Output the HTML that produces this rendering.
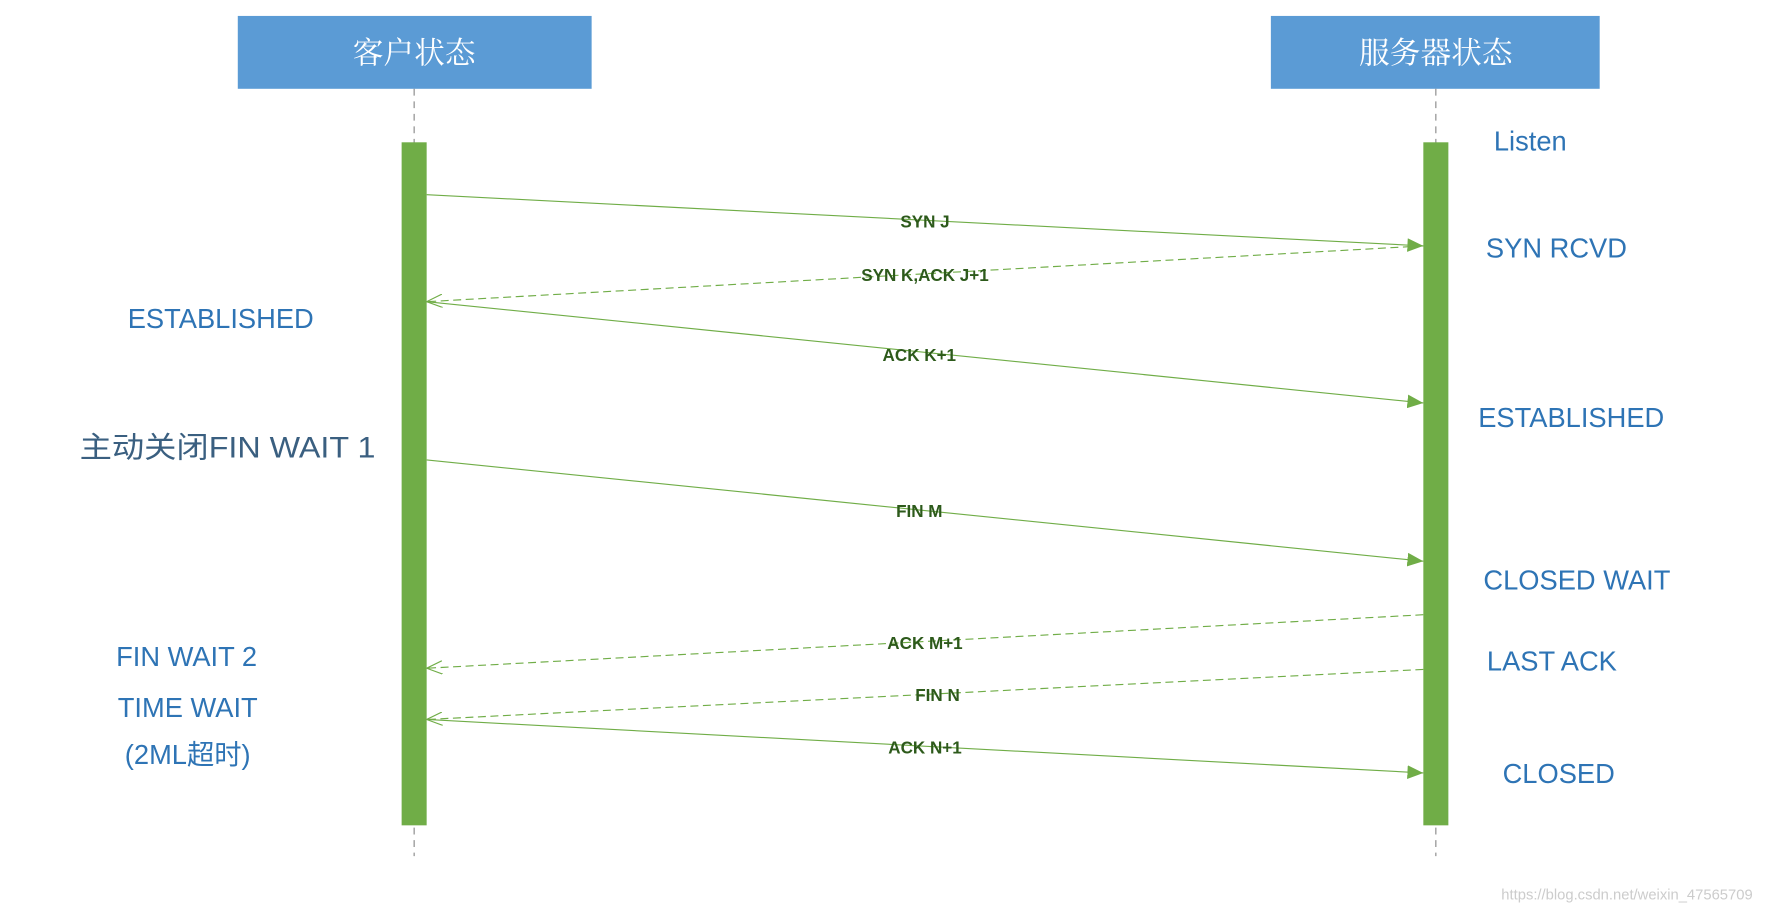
<!DOCTYPE html>
<html><head><meta charset="utf-8"><style>
html,body{margin:0;padding:0;background:#fff;}
svg{display:block;}
</style></head><body>
<svg width="1784" height="913" viewBox="0 0 1568 802" preserveAspectRatio="none" xmlns="http://www.w3.org/2000/svg">
<defs>
<marker id="fill" markerWidth="14" markerHeight="12" refX="14" refY="6" orient="auto" markerUnits="userSpaceOnUse">
<path d="M0,0 L14,6 L0,12 z" fill="#70ad47"/></marker>
<marker id="open" markerWidth="14" markerHeight="12" refX="14" refY="6" orient="auto" markerUnits="userSpaceOnUse">
<path d="M0,0 L14,6 L0,12" fill="none" stroke="#70ad47" stroke-width="1"/></marker>
</defs>
<rect x="209" y="14" width="311" height="64" fill="#5b9bd5"/>
<rect x="1117" y="14" width="289" height="64" fill="#5b9bd5"/>
<text x="364" y="56" font-size="27" fill="#fff" text-anchor="middle" font-family="Noto Serif CJK SC, serif">客户状态</text>
<text x="1262" y="56" font-size="27" fill="#fff" text-anchor="middle" font-family="Noto Serif CJK SC, serif">服务器状态</text>
<line x1="364" y1="78" x2="364" y2="752" stroke="#888" stroke-dasharray="6,5" stroke-width="1"/>
<line x1="1262" y1="78" x2="1262" y2="752" stroke="#888" stroke-dasharray="6,5" stroke-width="1"/>
<rect x="353" y="125" width="22" height="600" fill="#70ad47"/>
<rect x="1251" y="125" width="22" height="600" fill="#70ad47"/>
<g stroke="#70ad47" stroke-width="1" fill="none">
<line x1="375" y1="171" x2="1251" y2="216" marker-end="url(#fill)"/>
<line x1="1251" y1="216" x2="375" y2="265" stroke-dasharray="7,4" marker-end="url(#open)"/>
<line x1="375" y1="265" x2="1251" y2="354" marker-end="url(#fill)"/>
<line x1="375" y1="404" x2="1251" y2="493" marker-end="url(#fill)"/>
<line x1="1251" y1="540" x2="375" y2="587" stroke-dasharray="7,4" marker-end="url(#open)"/>
<line x1="1251" y1="588" x2="375" y2="632" stroke-dasharray="7,4" marker-end="url(#open)"/>
<line x1="375" y1="632" x2="1251" y2="679" marker-end="url(#fill)"/>
</g>
<g font-family="Liberation Sans, sans-serif" font-size="15" font-weight="bold" fill="#2d5a1b" text-anchor="middle">
<text x="813" y="200">SYN J</text>
<text x="813" y="247">SYN K,ACK J+1</text>
<text x="808" y="317">ACK K+1</text>
<text x="808" y="454">FIN M</text>
<text x="813" y="570">ACK M+1</text>
<text x="824" y="616">FIN N</text>
<text x="813" y="662">ACK N+1</text>
</g>
<g font-family="Liberation Sans, 'Noto Sans CJK SC', sans-serif" font-size="24" fill="#2e74b5" text-anchor="middle">
<text x="1345" y="132">Listen</text>
<text x="1368" y="226">SYN RCVD</text>
<text x="1381" y="375">ESTABLISHED</text>
<text x="1386" y="518">CLOSED WAIT</text>
<text x="1364" y="589">LAST ACK</text>
<text x="1370" y="688">CLOSED</text>
<text x="194" y="288">ESTABLISHED</text>
<text x="200" y="402" fill="#3a5f80" font-size="26" textLength="260" lengthAdjust="spacingAndGlyphs">主动关闭FIN WAIT 1</text>
<text x="164" y="585">FIN WAIT 2</text>
<text x="165" y="630">TIME WAIT</text>
<text x="165" y="671">(2ML超时)</text>
</g>
<text x="1430" y="790" font-family="Liberation Sans, sans-serif" font-size="13" fill="#ccc" text-anchor="middle">https://blog.csdn.net/weixin_47565709</text>
</svg>
</body></html>
